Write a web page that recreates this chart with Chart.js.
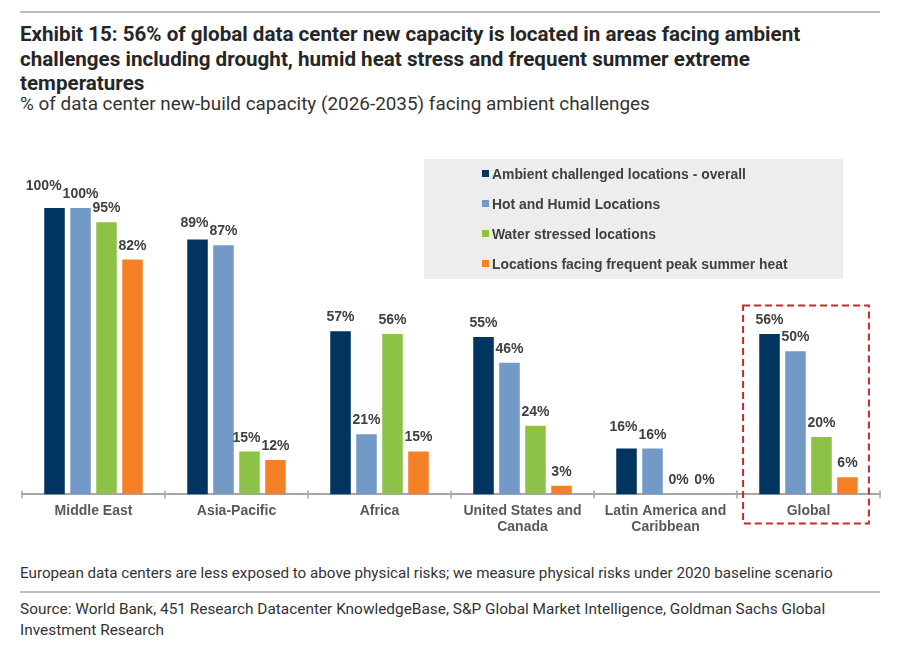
<!DOCTYPE html>
<html>
<head>
<meta charset="utf-8">
<script src="https://cdn.jsdelivr.net/npm/chart.js@4.4.1/dist/chart.umd.min.js"></script>
<style>
  body { margin: 0; background: #fff; width: 905px; height: 646px; position: relative; overflow: hidden; font-family: Roboto, "Liberation Sans", sans-serif; }
  .rule { position: absolute; left: 20px; width: 860px; height: 2px; background: #bdbdbd; }
  #title { position: absolute; left: 20px; top: 22px; font-weight: bold; font-size: 20.6px; line-height: 24.5px; color: #262626; white-space: nowrap; }
  #subtitle { position: absolute; left: 20px; top: 92px; font-size: 18.9px; line-height: 24px; color: #333; white-space: nowrap; }
  #note { position: absolute; left: 20px; top: 563px; font-size: 15.2px; line-height: 20px; color: #333; white-space: nowrap; }
  #source { position: absolute; left: 20px; top: 599px; font-size: 15.4px; line-height: 21px; color: #333; white-space: nowrap; }
  #wrap { position: absolute; left: 0; top: 140px; width: 905px; height: 396px; }
</style>
</head>
<body>
<div class="rule" style="top:11px"></div>
<div id="title">Exhibit 15: 56% of global data center new capacity is located in areas facing ambient<br>challenges including drought, humid heat stress and frequent summer extreme<br>temperatures</div>
<div id="subtitle">% of data center new-build capacity (2026-2035) facing ambient challenges</div>
<div id="wrap"><canvas id="chart" width="905" height="396"></canvas></div>
<div id="note">European data centers are less exposed to above physical risks; we measure physical risks under 2020 baseline scenario</div>
<div class="rule" style="top:591px"></div>
<div id="source">Source: World Bank, 451 Research Datacenter KnowledgeBase, S&amp;P Global Market Intelligence, Goldman Sachs Global<br>Investment Research</div>

<script>
const regions = [['Middle East'], ['Asia-Pacific'], ['Africa'], ['United States and', 'Canada'], ['Latin America and', 'Caribbean'], ['Global']];
const seriesNames = ['Ambient challenged locations - overall', 'Hot and Humid Locations', 'Water stressed locations', 'Locations facing frequent peak summer heat'];
const overall = [100, 89, 57, 55, 16, 56];
const hotHumid = [100, 87, 21, 46, 16, 50];
const waterStressed = [95, 15, 56, 24, 0, 20];
const peakHeat = [82, 12, 15, 3, 0, 6];
const colors = ['#00355F', '#7399C6', '#8DC246', '#F58025'];

const chartFont = '"Liberation Sans", Arial, sans-serif';

// value labels over the bars, nudged apart where they collide
const valueLabels = {
  id: 'valueLabels',
  afterDatasetsDraw(chart) {
    const ctx = chart.ctx;
    ctx.save();
    ctx.font = 'bold 14px ' + chartFont;
    ctx.fillStyle = '#404040';
    ctx.textBaseline = 'alphabetic';
    const n = chart.data.labels.length;
    for (let i = 0; i < n; i++) {
      let items = chart.data.datasets.map((ds, d) => {
        const bar = chart.getDatasetMeta(d).data[i];
        const text = ds.data[i] + '%';
        const w = ctx.measureText(text).width;
        return { text, x: bar.x - w / 2, y: bar.y - 10, w };
      });
      for (let k = items.length - 2; k >= 0; k--) {
        const a = items[k], b = items[k + 1];
        if (a.x + a.w > b.x && Math.abs(a.y - b.y) < 12) {
          a.x = b.x - a.w - 1;
          a.y = b.y - 8;
        }
      }
      items.forEach(it => ctx.fillText(it.text, it.x, it.y));
    }
    ctx.restore();
  }
};

const legendBox = {
  id: 'legendBox',
  beforeDatasetsDraw(chart) {
    const ctx = chart.ctx;
    ctx.save();
    ctx.fillStyle = '#EDEDED';
    ctx.fillRect(424, 19, 419, 120);
    ctx.font = 'bold 13.9px ' + chartFont;
    ctx.textBaseline = 'middle';
    chart.data.datasets.forEach((ds, i) => {
      const y = 34 + i * 30;
      ctx.fillStyle = ds.backgroundColor;
      ctx.fillRect(482, y - 4, 7, 7);
      ctx.fillStyle = '#404040';
      ctx.fillText(ds.label, 492, y + 1);
    });
    ctx.restore();
  }
};

const axisExtras = {
  id: 'axisExtras',
  afterDraw(chart) {
    const ctx = chart.ctx;
    const xs = chart.scales.x, ys = chart.scales.y;
    const y0 = ys.getPixelForValue(0);
    const step = xs.getPixelForValue(1) - xs.getPixelForValue(0);
    ctx.save();
    ctx.strokeStyle = '#A6A6A6';
    ctx.lineWidth = 1.5;
    for (let i = 0; i <= chart.data.labels.length; i++) {
      const x = xs.getPixelForValue(0) - step / 2 + i * step;
      ctx.beginPath();
      ctx.moveTo(x, y0 - 4);
      ctx.lineTo(x, y0 + 4);
      ctx.stroke();
    }
    // dashed highlight round the Global group
    const gx = xs.getPixelForValue(chart.data.labels.length - 1) - 2.5;
    const half = step * 0.44;
    const top = ys.getPixelForValue(66);
    ctx.strokeStyle = '#C9282D';
    ctx.lineWidth = 2;
    ctx.setLineDash([7, 4]);
    ctx.strokeRect(gx - half, top, half * 2, y0 + 29 - top);
    ctx.restore();
  }
};

new Chart(document.getElementById('chart'), {
  type: 'bar',
  data: {
    labels: regions,
    datasets: [overall, hotHumid, waterStressed, peakHeat].map((vals, i) => ({
      label: seriesNames[i],
      data: vals,
      backgroundColor: colors[i],
      categoryPercentage: 0.727,
      barPercentage: 0.79
    }))
  },
  options: {
    responsive: false,
    animation: false,
    layout: { padding: { top: 68, left: 22, right: 25, bottom: 0 } },
    plugins: { legend: { display: false }, tooltip: { enabled: false } },
    scales: {
      y: { display: false, min: 0, max: 100 },
      x: {
        grid: { display: false },
        border: { display: true, color: '#A6A6A6', width: 2 },
        ticks: {
          color: '#595959',
          font: { family: chartFont, size: 14, weight: 'bold', lineHeight: 1.2 },
          padding: 0,
          maxRotation: 0,
          autoSkip: false
        }
      }
    }
  },
  plugins: [legendBox, valueLabels, axisExtras]
});
</script>
</body>
</html>
